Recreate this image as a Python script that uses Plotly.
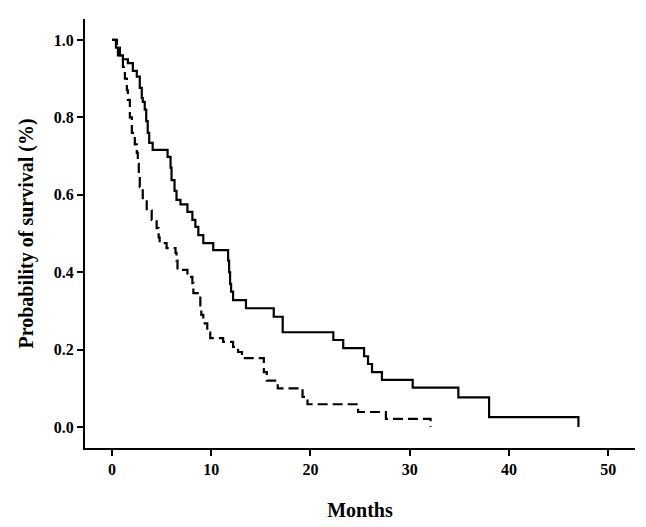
import plotly.graph_objects as go

# Kaplan-Meier step data (time in months, survival probability)
solid_t = [0, 0.4, 0.6, 1.1, 1.6, 2.1, 2.5, 2.8, 3.0, 3.1, 3.3, 3.45, 3.6, 3.75, 4.1,
           5.6, 5.9, 6.0, 6.3, 6.5, 6.9, 7.6, 8.1, 8.4, 8.7, 9.2, 10.2,
           11.7, 11.8, 11.9, 12.0, 12.2, 13.5, 16.3, 17.2, 22.3, 23.3, 25.4, 25.8,
           26.2, 27.2, 30.3, 34.9, 38.0, 47.0]
solid_s = [1.0, 0.98, 0.96, 0.95, 0.94, 0.92, 0.905, 0.876, 0.85, 0.84, 0.82, 0.79, 0.76, 0.734, 0.716,
           0.698, 0.67, 0.638, 0.61, 0.587, 0.575, 0.556, 0.535, 0.517, 0.496, 0.475, 0.457,
           0.43, 0.40, 0.37, 0.35, 0.328, 0.307, 0.285, 0.245, 0.225, 0.204, 0.183, 0.163,
           0.142, 0.122, 0.102, 0.077, 0.026, 0.0]

dash_t = [0, 0.5, 0.8, 1.1, 1.3, 1.5, 1.6, 1.8, 2.0, 2.3, 2.5, 2.6, 2.7, 2.8, 3.1, 3.5,
          4.0, 4.5, 4.7, 4.8, 5.5, 6.4, 6.5, 6.6, 7.6, 8.1, 8.2, 8.9, 9.0, 9.2, 9.6,
          9.9, 11.2, 12.2, 12.7, 13.1, 15.3, 15.6, 16.7, 19.2, 19.7, 24.8, 27.6, 32.1]
dash_s = [1.0, 0.98, 0.96, 0.93, 0.90, 0.87, 0.845, 0.80, 0.76, 0.73, 0.708, 0.68, 0.65, 0.62, 0.587, 0.56,
          0.535, 0.514, 0.49, 0.475, 0.462, 0.45, 0.43, 0.406, 0.388, 0.372, 0.346, 0.31, 0.29, 0.268, 0.245,
          0.23, 0.22, 0.207, 0.194, 0.178, 0.142, 0.12, 0.10, 0.078, 0.059, 0.039, 0.021, 0.0]

x_ticks = [0, 10, 20, 30, 40, 50]
y_ticks = [0.0, 0.2, 0.4, 0.6, 0.8, 1.0]
y_tick_labels = ["0.0", "0.2", "0.4", "0.6", "0.8", "1.0"]

serif = "Liberation Serif"

fig = go.Figure()
fig.add_trace(go.Scatter(x=solid_t, y=solid_s, mode="lines", line_shape="hv",
                         line=dict(color="black", width=2.2), showlegend=False))
fig.add_trace(go.Scatter(x=dash_t, y=dash_s, mode="lines", line_shape="hv",
                         line=dict(color="black", width=2.2, dash="10px,5px"), showlegend=False))

# the page's body adds an 8px margin, so the figure is sized to fit the window
fig.update_layout(
    width=638, height=519,
    margin=dict(l=77, r=11, t=11, b=79),
    paper_bgcolor="white", plot_bgcolor="white",
    font=dict(family=serif, color="black"),
)
fig.update_xaxes(
    range=[-2.72, 52.7], tickvals=x_ticks, showgrid=False, zeroline=False,
    showline=True, linecolor="black", linewidth=2, automargin=False,
    ticks="outside", ticklen=6, tickwidth=2, tickcolor="black",
    tickfont=dict(family=serif, size=16, weight="bold"),
    title=dict(text="Months", font=dict(family=serif, size=20, weight="bold"), standoff=26),
)
fig.update_yaxes(
    range=[-0.054, 1.054], tickvals=y_ticks, ticktext=y_tick_labels, showgrid=False, zeroline=False,
    showline=True, linecolor="black", linewidth=2, automargin=False,
    ticks="outside", ticklen=6, tickwidth=2, tickcolor="black",
    tickfont=dict(family=serif, size=16, weight="bold"),
    title=dict(text="Probability of survival (%)", font=dict(family=serif, size=20, weight="bold"), standoff=15),
)

fig.write_html("out.html")
